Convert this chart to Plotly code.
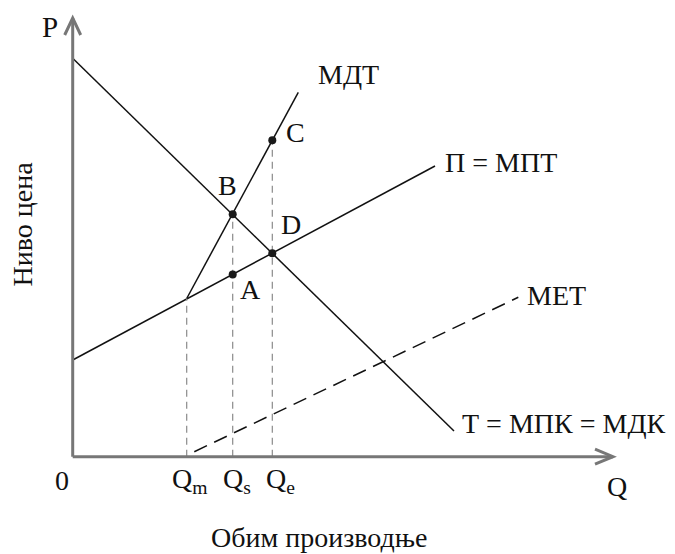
import plotly.graph_objects as go

# all values in chart units (Q along x, P along y)
demand_q = [0.0, 38.13]          # T = МПК = МДК
demand_p = [39.84, 2.57]
mpt_q = [0.0, 36.23]             # П = МПТ
mpt_p = [9.67, 29.07]
mdt_q = [11.40, 22.56]           # МДТ
mdt_p = [15.82, 36.44]
met_q = [12.16, 44.56]           # МЕТ (dashed)
met_p = [0.50, 15.94]

point_names = ['B', 'D', 'A', 'C']
point_q = [16.00, 19.96, 16.00, 19.96]
point_p = [24.25, 20.35, 18.22, 31.64]

q_ticks = [11.40, 16.00, 19.96]
q_tick_labels = ['Q<sub>m</sub>', 'Q<sub>s</sub>', 'Q<sub>e</sub>']
q_drop_top = [15.82, 24.25, 31.64]

# page body adds an 8px margin, ranges are shifted to compensate
X_RANGE = [-6.47, 61.03]
Y_RANGE = [-10.53, 44.87]
X_AXIS_END = 54.03
Y_AXIS_END = 43.87

FONT = 'Liberation Serif, Times New Roman, serif'
FS = 28
INK = '#111111'
AXIS = '#777777'

fig = go.Figure()

for q, p, dash in [(demand_q, demand_p, None), (mpt_q, mpt_p, None),
                   (mdt_q, mdt_p, None), (met_q, met_p, '14px,8px')]:
    fig.add_trace(go.Scatter(x=q, y=p, mode='lines',
                             line=dict(color=INK, width=1.5, dash=dash),
                             hoverinfo='skip'))

# drop lines down to the Q axis
for q, top in zip(q_ticks, q_drop_top):
    fig.add_trace(go.Scatter(x=[q, q], y=[0, top], mode='lines',
                             line=dict(color='#8a8a8a', width=1.2, dash='7px,5px'),
                             hoverinfo='skip'))

fig.add_trace(go.Scatter(x=point_q, y=point_p, mode='markers',
                         marker=dict(color='#1a1a1a', size=8),
                         hovertext=point_names, hoverinfo='text'))

# axes with open arrow heads
fig.add_shape(type='line', x0=0, y0=0, x1=0, y1=Y_AXIS_END,
              line=dict(color=AXIS, width=3))
fig.add_shape(type='line', x0=0, y0=0, x1=X_AXIS_END, y1=0,
              line=dict(color=AXIS, width=3))
fig.add_shape(type='path',
              path=f'M -0.8,{Y_AXIS_END - 1.7} L 0,{Y_AXIS_END} L 0.8,{Y_AXIS_END - 1.7}',
              line=dict(color=AXIS, width=3))
fig.add_shape(type='path',
              path=f'M {X_AXIS_END - 1.8},0.75 L {X_AXIS_END},0 L {X_AXIS_END - 1.8},-0.75',
              line=dict(color=AXIS, width=3))


def label(text, x, y, dx=0, dy=0, anchor='center', size=FS, angle=0):
    fig.add_annotation(x=x, y=y, text=text, showarrow=False, xshift=dx, yshift=dy,
                       xanchor=anchor, yanchor='middle', textangle=angle,
                       font=dict(family=FONT, size=size, color=INK))


# point labels
label('B', point_q[0], point_p[0], -5, 29)
label('D', point_q[1], point_p[1], 19, 29)
label('A', point_q[2], point_p[2], 18, -15)
label('C', point_q[3], point_p[3], 23, 8)

# curve labels
label('МДТ', mdt_q[1], mdt_p[1], 50, 18)
label('П = МПТ', mpt_q[1], mpt_p[1], 8, 4, anchor='left')
label('МЕТ', met_q[1], met_p[1], 7, 2, anchor='left')
label('Т = МПК = МДК', demand_q[1], demand_p[1], 6, 8, anchor='left')

for q, t, dx in zip(q_ticks, q_tick_labels, [3, 4, 8]):
    label(t, q, 0, dx, -24)

label('0', 0, 0, -11, -24)
label('P', 0, Y_AXIS_END, -23, -9, size=29)
label('Q', X_AXIS_END, 0, 4, -30)
label('Обим производње', 24.6, 0, 0, -81)
label('Ниво цена', 0, 23.3, -50, 0, angle=-90)

fig.update_layout(
    width=675, height=554,
    margin=dict(l=0, r=0, t=0, b=0),
    paper_bgcolor='white', plot_bgcolor='white',
    showlegend=False,
    xaxis=dict(range=X_RANGE, visible=False, fixedrange=True),
    yaxis=dict(range=Y_RANGE, visible=False, fixedrange=True),
)

fig.write_html('out.html')
